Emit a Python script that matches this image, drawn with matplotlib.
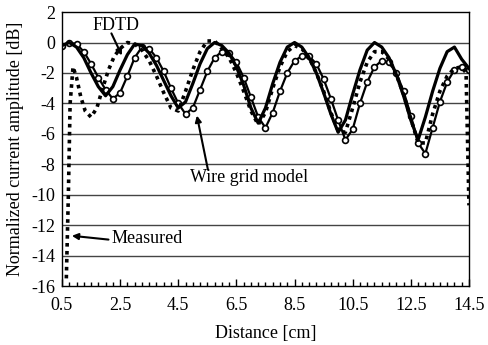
import numpy as np
import matplotlib.pyplot as plt
from matplotlib.ticker import MultipleLocator

plt.rcParams['font.family'] = ['Liberation Serif', 'DejaVu Serif']
plt.rcParams['axes.unicode_minus'] = False

# distance grid of the two computed curves [cm]
dist = [0.5, 0.75, 1.0, 1.25, 1.5, 1.75, 2.0, 2.25, 2.5, 2.75, 3.0, 3.25, 3.5, 3.75,
        4.0, 4.25, 4.5, 4.75, 5.0, 5.25, 5.5, 5.75, 6.0, 6.25, 6.5, 6.75, 7.0, 7.25,
        7.5, 7.75, 8.0, 8.25, 8.5, 8.75, 9.0, 9.25, 9.5, 9.75, 10.0, 10.25, 10.5, 10.75,
        11.0, 11.25, 11.5, 11.75, 12.0, 12.25, 12.5, 12.75, 13.0, 13.25, 13.5, 13.75,
        14.0, 14.25, 14.5]

fdtd = [-0.2, 0.0, -0.3, -1.0, -2.0, -2.9, -3.5, -2.9, -1.8, -0.8, -0.1, -0.2, -0.7, -1.5,
        -2.5, -3.5, -4.3, -3.9, -2.7, -1.4, -0.4, 0.0, -0.2, -0.7, -1.6, -2.8, -4.3, -5.3,
        -4.3, -2.7, -1.3, -0.3, 0.0, -0.3, -1.0, -2.0, -3.3, -4.7, -5.9, -5.1, -3.4, -1.8,
        -0.5, 0.0, -0.3, -1.0, -2.1, -3.5, -5.1, -6.4, -4.9, -3.2, -1.7, -0.6,
        -0.3, -1.1, -1.7]

wire_grid = [-0.2, 0.0, -0.1, -0.6, -1.4, -2.3, -3.1, -3.7, -3.3, -2.2, -1.0, -0.3, -0.4, -1.0,
             -1.9, -3.0, -4.0, -4.7, -4.3, -3.1, -1.9, -1.0, -0.6, -0.7, -1.3, -2.3, -3.6, -4.9,
             -5.6, -4.6, -3.2, -2.0, -1.2, -0.9, -0.9, -1.4, -2.4, -3.7, -5.1, -6.4, -5.7, -4.0,
             -2.6, -1.6, -1.2, -1.3, -2.0, -3.2, -4.8, -6.6, -7.3, -5.6, -3.9, -2.6,
             -1.8, -1.6, -1.8]

# measured data
meas_dist = [0.65, 0.72, 0.78, 0.88, 1.0, 1.15, 1.3, 1.5, 1.7, 1.9, 2.1, 2.3, 2.5, 2.75,
             3.0, 3.25, 3.5, 3.75, 4.0, 4.25, 4.5, 4.75, 5.0, 5.25, 5.5, 5.75, 6.0, 6.25,
             6.5, 6.75, 7.0, 7.25, 7.5, 7.75, 8.0, 8.25, 8.5, 8.75, 9.0, 9.25, 9.5, 9.75,
             10.0, 10.25, 10.5, 10.75, 11.0, 11.25, 11.5, 11.75, 12.0, 12.25, 12.5, 12.75,
             13.0, 13.25, 13.5, 13.75, 14.0, 14.25, 14.4, 14.5]
measured = [-15.5, -10.0, -4.0, -1.6, -2.3, -3.6, -4.5, -4.9, -4.3, -3.0, -1.8, -0.9, -0.4, 0.0,
            -0.1, -0.5, -1.2, -2.2, -3.3, -4.3, -4.5, -3.2, -1.8, -0.6, 0.1, 0.1, -0.4, -1.0,
            -2.0, -3.2, -4.5, -5.4, -4.6, -3.0, -1.6, -0.6, -0.2, -0.4, -1.0, -2.0, -3.2, -4.6,
            -5.8, -5.9, -4.3, -2.6, -1.3, -0.6, -0.6, -1.1, -2.1, -3.4, -5.0, -6.6,
            -6.6, -4.7, -3.2, -2.2, -1.7, -1.6, -2.0, -10.7]

fig = plt.figure(figsize=(4.88, 3.45), dpi=100)
ax = fig.add_axes([0.127, 0.171, 0.834, 0.794])

ax.plot(dist, wire_grid, color='black', lw=1.6, marker='o', ms=4.2,
        mfc='white', mec='black', mew=1.2)
ax.plot(dist, fdtd, color='black', lw=2.3)
ax.plot(meas_dist, measured, color='black', lw=2.6, linestyle=(0, (1, 1.2)),
        dash_capstyle='butt')

ax.set_xlim(0.5, 14.5)
ax.set_ylim(-16, 2)
ax.set_xticks([0.5, 2.5, 4.5, 6.5, 8.5, 10.5, 12.5, 14.5])
ax.xaxis.set_minor_locator(MultipleLocator(0.25))
ax.set_yticks(range(-16, 3, 2))
ax.tick_params(axis='x', which='major', direction='in', length=5, width=1, pad=8, labelsize=13)
ax.tick_params(axis='x', which='minor', direction='in', length=3, width=1)
ax.tick_params(axis='y', length=0, pad=5, labelsize=13)

for yv in range(-14, 1, 2):
    ax.axhline(yv, color='#444444', lw=1.0, zorder=0)
for sp in ax.spines.values():
    sp.set_linewidth(1.0)
    sp.set_color('black')

ax.set_xlabel('Distance [cm]', fontsize=13, labelpad=8)
ax.set_ylabel('Normalized current amplitude [dB]', fontsize=13, labelpad=5)

arrow = dict(arrowstyle='-|>', color='black', lw=1.5, mutation_scale=9, shrinkA=0, shrinkB=0)
ax.annotate('', xy=(2.56, -0.85), xytext=(2.2, 0.6), arrowprops=arrow)
ax.text(2.36, 1.15, 'FDTD', fontsize=13, ha='center', va='center')
ax.annotate('', xy=(5.14, -4.8), xytext=(5.52, -8.35), arrowprops=arrow)
ax.text(4.9, -8.9, 'Wire grid model', fontsize=13, ha='left', va='center')
ax.annotate('', xy=(0.84, -12.7), xytext=(2.1, -12.95), arrowprops=arrow)
ax.text(2.22, -12.9, 'Measured', fontsize=13, ha='left', va='center')

fig.savefig('out.png', dpi=100)
